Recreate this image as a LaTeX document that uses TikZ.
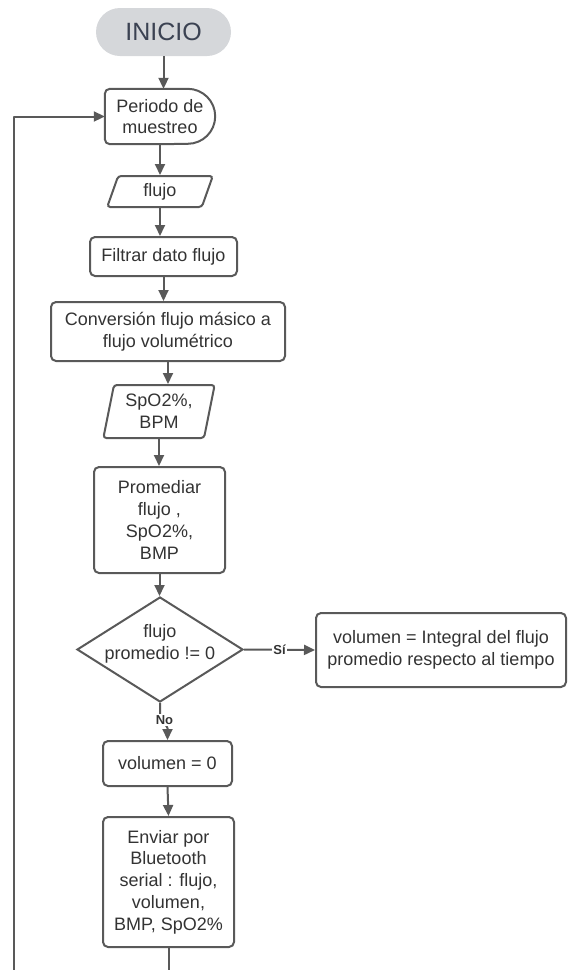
\documentclass[tikz,border=0pt]{standalone}
\usepackage{fontspec}
\setmainfont{Liberation Sans}
\usetikzlibrary{shapes.geometric,arrows.meta}
\definecolor{linegray}{HTML}{595959}
\definecolor{textgray}{HTML}{333333}
\definecolor{startfill}{HTML}{D5D7DA}
\definecolor{starttext}{HTML}{3B4252}

\begin{document}
\begin{tikzpicture}[x=1pt,y=-1pt,
  base/.style={font=\fontsize{18}{21.7}\selectfont, text=textgray, align=center, inner sep=0pt},
  box/.style={base, draw=linegray, line width=2pt, rounded corners=5pt, fill=white},
  io/.style={base, draw=linegray, line width=2pt, trapezium, trapezium stretches=true,
    rounded corners=3pt, fill=white},
  line/.style={draw=linegray, line width=2pt, line join=round},
  flow/.style={line, -{Triangle[length=11pt,width=10pt]}},
  lbl/.style={font=\fontsize{13}{15}\selectfont\bfseries, text=textgray, fill=white, inner sep=1.5pt},
]
\useasboundingbox (0,0) rectangle (568,970);

% start terminal
\node[base, fill=startfill, rounded corners=24pt, minimum width=135pt, minimum height=48pt,
  font=\fontsize{25}{28}\selectfont, text=starttext] (ini) at (163.5,32) {INICIO};

% delay-shaped sampling step (drawn round its text node)
\node[base, minimum width=110pt, minimum height=55pt] (per) at (160,116.5) {Periodo de\\muestreo};
\draw[line] (per.north) -- ([xshift=-27.5pt]per.north east)
  arc[start angle=90, end angle=-90, radius=27.5pt] -- (per.south)
  [rounded corners=5pt] -| (per.west) |- (per.north);

\node[io, trapezium left angle=75.5, trapezium right angle=104.5,
  minimum width=106pt, minimum height=31pt] (flu) at (160,191.5) {flujo};
\node[box, minimum width=147pt, minimum height=39pt] (fil) at (163.5,256.5) {Filtrar dato flujo};
\node[box, minimum width=234pt, minimum height=59pt] (conv) at (168,331.5)
  {Conversión flujo másico a\\flujo volumétrico};
\node[io, trapezium left angle=77, trapezium right angle=103,
  minimum width=112pt, minimum height=53pt] (spo) at (159,411.5) {SpO2\%,\\BPM};
\node[box, minimum width=131pt, minimum height=106pt] (prom) at (159.5,520)
  {Promediar\\flujo ,\\SpO2\%,\\BMP};

% decision
\node[diamond, draw=linegray, line width=2pt, fill=white, inner sep=0pt,
  minimum width=166pt, minimum height=105pt] (dec) at (160,649.5) {};
\node[base] (dectxt) at (160,644) {flujo\\promedio != 0};

\node[box, minimum width=250pt, minimum height=74pt] (vint) at (441,650)
  {volumen = Integral del flujo\\promedio respecto al tiempo};
\node[box, minimum width=129pt, minimum height=45pt] (vol0) at (167.5,763.5) {volumen = 0};
\node[box, minimum width=131pt, minimum height=130pt] (env) at (168.5,882)
  {Enviar por\\Bluetooth\\serial : flujo,\\volumen,\\BMP, SpO2\%};

% connectors
\draw[flow] (ini.south) -- (ini.south |- per.north);
\draw[flow] (per.south) -- (per.south |- flu.north);
\draw[flow] (flu.south) -- (flu.south |- fil.north);
\draw[flow] (fil.south) -- (fil.south |- conv.north);
\draw[flow] (conv.south) -- (conv.south |- spo.north);
\draw[flow] (spo.south) -- (spo.south |- prom.north);
\draw[flow] (prom.south) -- (prom.south |- dec.north);
\draw[flow] (dec.east) -- node[lbl] (si) {Sí} (vint.west);
\draw[flow] (dec.south) -- ++(0,12) -- ([yshift=12pt]vol0.north) -- (vol0.north);
\node[lbl] (no) at (164.5,720) {No};
\draw[flow] (vol0.south) -- (env.north);

% loop back to the sampling step
\coordinate (loopbot) at (14,970);
\draw[line] (env.south) -- (env.south |- loopbot);
\draw[flow] (loopbot) |- (per.west);
\end{tikzpicture}
\end{document}
